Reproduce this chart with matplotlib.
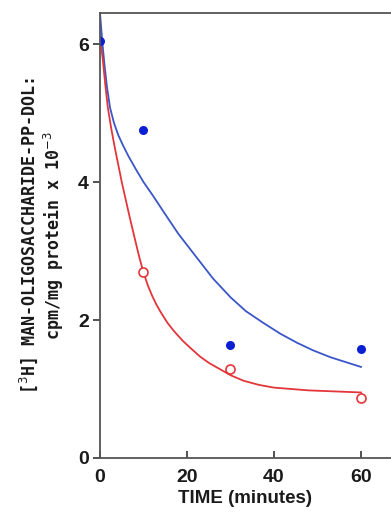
import matplotlib
matplotlib.use('Agg')
import matplotlib.pyplot as plt

# measured points
t_pts = [0, 10, 30, 60]
blue_pts = [6.05, 4.76, 1.64, 1.58]
red_pts = [6.05, 2.70, 1.29, 0.87]

# fitted curves
blue_t = [0, 0.5, 1, 1.6, 2.3, 3.2, 4.2, 5.3, 6.5, 8.2, 10, 12.2, 14.5, 18, 22.3, 26,
          30, 33.5, 37.5, 41.5, 45.3, 49, 53, 56.5, 60]
blue_v = [6.45, 6.05, 5.72, 5.38, 5.08, 4.86, 4.68, 4.53, 4.38, 4.19, 4.0, 3.8, 3.58,
          3.25, 2.9, 2.6, 2.33, 2.13, 1.96, 1.8, 1.67, 1.56, 1.46, 1.39, 1.32]
red_t = [0, 0.6, 1.2, 1.8, 2.6, 3.4, 4.2, 5.0, 6.0, 6.9, 8.0, 9.0, 9.9, 11, 12, 13,
         14, 15.5, 17, 19, 20.7, 23, 25, 27.5, 30, 33, 36.5, 40, 44, 48, 52, 56, 60]
red_v = [6.1, 5.8, 5.42, 5.08, 4.77, 4.5, 4.25, 4.0, 3.72, 3.47, 3.18, 2.92, 2.71,
         2.5, 2.35, 2.22, 2.11, 1.96, 1.84, 1.7, 1.6, 1.47, 1.38, 1.29, 1.2, 1.12,
         1.06, 1.02, 1.0, 0.98, 0.97, 0.96, 0.95]

x_ticks = [0, 20, 40, 60]
y_ticks = [0, 2, 4, 6]

blue = '#3a56c8'
red = '#e2363a'

fig = plt.figure(figsize=(3.91, 5.14), dpi=100)
ax = fig.add_axes([100 / 391, 56 / 514, 291 / 391, 445 / 514])

ax.plot(blue_t, blue_v, color=blue, lw=1.3)
ax.plot(red_t, red_v, color=red, lw=1.3)
ax.plot(t_pts, blue_pts, 'o', color='#0a1ed2', ms=6.5, mec='none')
ax.plot(t_pts[1:], red_pts[1:], 'o', mfc='white', mec=red, mew=1.2, ms=6.5)

ax.set_xlim(0, 66.9)
ax.set_ylim(0, 6.45)
ax.set_xticks(x_ticks)
ax.set_yticks(y_ticks)

for s in ['left', 'bottom', 'top']:
    ax.spines[s].set_color('#555555')
    ax.spines[s].set_linewidth(1.3)
ax.spines['right'].set_visible(False)

ax.tick_params(axis='x', direction='in', length=5, width=1.2, color='#333333', pad=8)
ax.tick_params(axis='y', direction='out', length=5, width=1.2, color='#333333', pad=3)
for lab in ax.get_xticklabels() + ax.get_yticklabels():
    lab.set_fontfamily('Liberation Sans')
    lab.set_fontweight('bold')
    lab.set_fontsize(14)
    lab.set_color('#1a1a1a')

ax.set_xlabel('TIME (minutes)', family='Liberation Sans', weight='bold', fontsize=13.5,
              color='#1a1a1a', labelpad=3)
ax.set_ylabel('[$^{3}$H] MAN-OLIGOSACCHARIDE-PP-DOL:\ncpm/mg protein x 10$^{-3}$',
              family='DejaVu Sans Mono', weight='bold', fontsize=12, color='#1a1a1a',
              labelpad=9, linespacing=1.1)

fig.savefig('out.png', dpi=100)
